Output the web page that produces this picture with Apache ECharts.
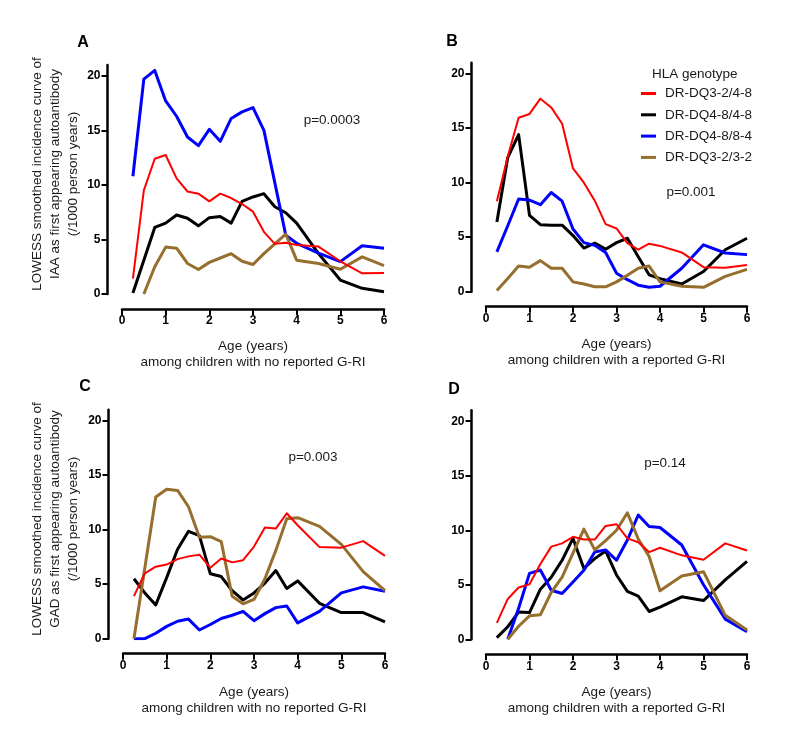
<!DOCTYPE html>
<html>
<head>
<meta charset="utf-8">
<script src="https://cdn.jsdelivr.net/npm/echarts@6/dist/echarts.min.js"></script>
<style>
html,body{margin:0;padding:0;background:#fff;}
#chart{width:800px;height:741px;}
</style>
</head>
<body>
<div id="chart"></div>
<script>
// ---------- data ----------
const ages = [0.25,0.5,0.75,1,1.25,1.5,1.75,2,2.25,2.5,2.75,3,3.25,3.5,3.75,4,4.5,5,5.5,6];
const genotypes = ['DR-DQ3-2/4-8','DR-DQ4-8/4-8','DR-DQ4-8/8-4','DR-DQ3-2/3-2'];
const xTicks = [0,1,2,3,4,5,6];
const yTicks = [0,5,10,15,20];

// Panel A: IAA, no reported G-RI
const aRed   = [1.4,9.5,12.4,12.75,10.6,9.4,9.2,8.5,9.2,8.8,8.25,7.55,5.7,4.6,4.7,4.5,4.35,3.0,1.9,1.93];
const aBlack = [0.1,null,6.1,6.5,7.25,6.95,6.25,7.0,7.1,6.5,8.5,8.9,9.2,8.0,7.45,6.5,3.7,1.28,0.52,0.2];
const aBlue  = [10.8,19.7,20.5,17.7,16.3,14.4,13.6,15.1,14.0,16.1,16.7,17.1,15.0,null,5.4,4.65,3.75,2.97,4.43,4.2];
const aBrown = [null,0,2.5,4.3,4.2,2.8,2.25,2.9,3.3,3.7,3.0,2.7,3.7,4.6,5.5,3.1,2.8,2.27,3.4,2.6];

// Panel B: IAA, reported G-RI
const bRed   = [8.3,12.4,15.95,16.3,17.7,16.9,15.4,11.3,10.0,8.35,6.2,5.8,4.45,3.85,4.4,4.2,3.6,2.25,2.2,2.45];
const bBlack = [6.4,12.3,14.4,7.0,6.15,6.1,6.1,5.15,4.0,4.45,3.9,4.5,4.9,3.2,1.55,1.2,0.7,1.85,3.85,4.9];
const bBlue  = [3.65,6.05,8.5,8.4,7.98,9.1,8.3,5.75,4.5,4.25,3.6,1.7,1.1,0.6,0.4,0.5,2.15,4.3,3.55,3.4];
const bBrown = [0.1,1.2,2.35,2.25,2.85,2.15,2.15,0.9,0.7,0.45,0.45,0.9,1.5,2.15,2.35,0.9,0.5,0.4,1.4,2.05];

// Panel C: GAD, no reported G-RI
const cRed   = [3.9,6.0,6.6,6.8,7.3,7.55,7.7,6.5,7.35,7.0,7.2,8.45,10.2,10.1,11.5,10.4,8.4,8.35,8.95,7.6];
const cBlack = [5.5,4.2,3.1,5.6,8.2,9.85,9.45,5.95,5.7,4.4,3.55,4.2,5.1,6.25,4.6,5.3,3.25,2.4,2.4,1.55];
const cBlue  = [0,0,0.5,1.13,1.6,1.8,0.8,1.3,1.85,2.15,2.5,1.65,2.3,2.85,3.0,1.45,2.5,4.2,4.75,4.35];
const cBrown = [0,null,13.0,13.7,13.6,12.1,9.3,9.35,8.9,3.9,3.2,3.6,5.5,8.1,11.0,11.1,10.3,8.65,6.15,4.4];

// Panel D: GAD, reported G-RI
const dRed   = [1.5,3.7,4.75,5.05,6.9,8.5,8.8,9.4,9.15,9.15,10.4,10.55,9.25,8.9,8.0,8.4,7.7,7.3,8.8,8.15];
const dBlack = [0.15,1.15,2.5,2.45,4.6,5.7,7.25,9.25,6.5,7.4,8.1,5.9,4.4,3.95,2.55,2.95,3.9,3.55,5.45,7.15];
const dBlue  = [null,0,2.85,6.05,6.35,4.5,4.2,5.25,6.33,8.0,8.2,7.25,9.1,11.4,10.35,10.25,8.65,5.0,1.85,0.7];
const dBrown = [null,0,1.2,2.15,2.25,4.3,5.7,7.9,10.1,8.2,9.05,10.0,11.6,9.2,7.6,4.45,5.8,6.2,2.2,0.85];

const panelLetters = ['A','B','C','D'];
const pValues = ['p=0.0003','p=0.001','p=0.003','p=0.14'];
const xTitles = [
  'Age (years)\namong children with no reported G-RI',
  'Age (years)\namong children with a reported G-RI',
  'Age (years)\namong children with no reported G-RI',
  'Age (years)\namong children with a reported G-RI'
];
const yTitles = [
  'LOWESS smoothed incidence curve of\nIAA as first appearing autoantibody\n(/1000 person years)',
  'LOWESS smoothed incidence curve of\nGAD as first appearing autoantibody\n(/1000 person years)'
];
const legendTitle = 'HLA genotype';

// ---------- styling / layout ----------
const panels = [
  [aRed,aBlack,aBlue,aBrown],
  [bRed,bBlack,bBlue,bBrown],
  [cRed,cBlack,cBlue,cBrown],
  [dRed,dBlack,dBlue,dBrown]
];
const colors = ['#ff0000','#000000','#0000ff','#966e2d'];
const widths = [2,3,3,3];
const FONT = '"Liberation Sans", Arial, sans-serif';
const TXT = '#1a1a1a';

const grids = [
  {left:122, top:65,    width:262, height:229},
  {left:486, top:62.7,  width:261, height:229},
  {left:123, top:409.7, width:262, height:229},
  {left:486, top:410.3, width:261, height:229}
];

const xAxes = grids.map((g,i)=>({
  type:'value', gridIndex:i, min:0, max:6, interval:1, offset:15,
  axisLine:{show:true, onZero:false, lineStyle:{color:'#000', width:2.5}},
  axisTick:{show:true, length:6, customValues:xTicks, lineStyle:{color:'#000', width:2}},
  axisLabel:{customValues:xTicks, margin:6, color:'#000', fontWeight:'bold', fontSize:12, fontFamily:FONT},
  splitLine:{show:false}
}));
const yAxes = grids.map((g,i)=>({
  type:'value', gridIndex:i, min:0, max:21, offset:14.5,
  axisLine:{show:true, onZero:false, lineStyle:{color:'#000', width:2.5}},
  axisTick:{show:true, length:6, customValues:yTicks, lineStyle:{color:'#000', width:2}},
  axisLabel:{customValues:yTicks, margin:7, color:'#000', fontWeight:'bold', fontSize:12, fontFamily:FONT},
  splitLine:{show:false}
}));

const series = [];
panels.forEach((vals,p)=>{
  vals.forEach((arr,k)=>{
    series.push({
      type:'line', name:genotypes[k], xAxisIndex:p, yAxisIndex:p,
      data: ages.map((a,j)=>[a, arr[j]]),
      connectNulls:true, showSymbol:false, symbol:'none', smooth:false,
      color:colors[k],
      itemStyle:{color:colors[k]},
      lineStyle:{color:colors[k], width:widths[k], join:'round'},
      z: k===0 ? 3 : 2
    });
  });
});

const letterPos = [[83,42.5],[452,42],[85,387],[454,390]];
const pPos = [[332,120],[691,192],[313,457],[665,463]];
const xTitlePos = [[253,354],[616.5,352],[254,700],[616.5,700]];
const yTitlePos = [[55,174],[55,519]];

const graphics = [];
panelLetters.forEach((t,i)=>graphics.push({type:'text', x:letterPos[i][0], y:letterPos[i][1],
  style:{text:t, align:'center', verticalAlign:'middle', fontSize:16, fontWeight:'bold', fontFamily:FONT, fill:'#000'}}));
pValues.forEach((t,i)=>graphics.push({type:'text', x:pPos[i][0], y:pPos[i][1],
  style:{text:t, align:'center', verticalAlign:'middle', fontSize:13.5, fontFamily:FONT, fill:TXT}}));
xTitles.forEach((t,i)=>graphics.push({type:'text', x:xTitlePos[i][0], y:xTitlePos[i][1],
  style:{text:t, align:'center', verticalAlign:'middle', fontSize:13.5, lineHeight:16, fontFamily:FONT, fill:TXT}}));
yTitles.forEach((t,i)=>graphics.push({type:'text', x:yTitlePos[i][0], y:yTitlePos[i][1], rotation:Math.PI/2,
  style:{text:t, align:'center', verticalAlign:'middle', fontSize:13.5, lineHeight:18, fontFamily:FONT, fill:TXT}}));
graphics.push({type:'text', x:652, y:74,
  style:{text:legendTitle, align:'left', verticalAlign:'middle', fontSize:13.5, fontFamily:FONT, fill:TXT}});

const option = {
  animation:false,
  backgroundColor:'#fff',
  grid: grids.map(g=>Object.assign({containLabel:false, outerBoundsMode:'none'}, g)),
  xAxis:xAxes,
  yAxis:yAxes,
  legend:{
    data:genotypes, orient:'vertical', left:641, top:86.5, padding:0,
    icon:'rect', itemWidth:15, itemHeight:3, itemGap:7.3,
    textStyle:{fontSize:13.5, lineHeight:14, color:TXT, fontFamily:FONT, padding:[0,0,0,4]},
    selectedMode:false
  },
  series:series,
  graphic:graphics
};

const chart = echarts.init(document.getElementById('chart'), null, {renderer:'canvas'});
chart.setOption(option);
</script>
</body>
</html>
